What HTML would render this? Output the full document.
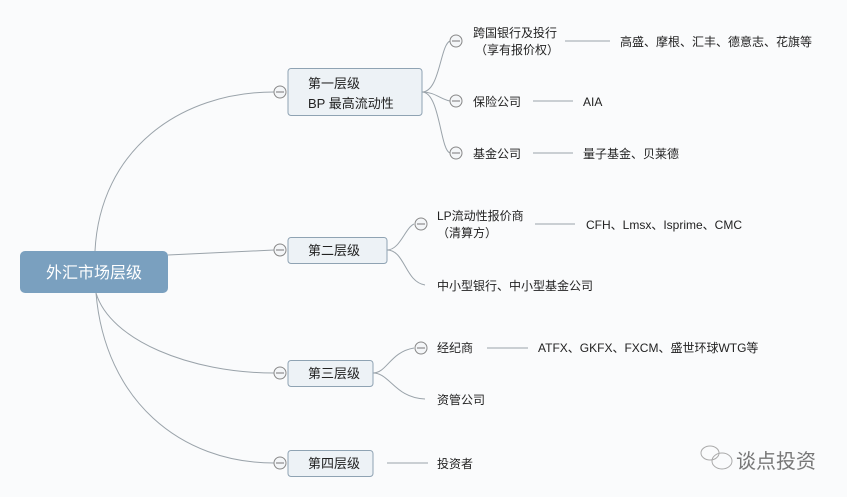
<!DOCTYPE html>
<html><head><meta charset="utf-8"><style>
html,body{margin:0;padding:0;background:#fafbfc;}
svg{display:block;}
text{font-family:"Liberation Sans","Noto Sans CJK SC",sans-serif;fill:#222;}
</style></head><body>
<svg width="847" height="497" viewBox="0 0 847 497" xmlns="http://www.w3.org/2000/svg">
<rect width="847" height="497" fill="#fafbfc"/>
<g fill="none" stroke="#9aa3aa" stroke-width="1">
<!-- root connectors -->
<path d="M95 251 C100 150 180 92 274 92"/>
<path d="M168 255 L274 250"/>
<path d="M96 293 C110 340 190 373 274 373"/>
<path d="M96 293 C105 400 180 463 274 463"/>
<!-- L1 children -->
<path d="M422 92 C440 92 440 45 450 41"/>
<path d="M422 92 C435 92 440 99 450 101"/>
<path d="M422 92 C440 92 440 150 450 153"/>
<path d="M497 41 L610 41" stroke="none"/>
<line x1="565" y1="41" x2="610" y2="41"/>
<line x1="533" y1="101" x2="573" y2="101"/>
<line x1="533" y1="153" x2="573" y2="153"/>
<!-- L2 -->
<path d="M387 250 C400 250 405 228 414 224"/>
<path d="M387 250 C405 250 405 282 425 285"/>
<line x1="535" y1="224" x2="575" y2="224"/>
<!-- L3 -->
<path d="M373 373 C387 373 390 352 414 348"/>
<path d="M373 373 C390 373 395 398 425 399"/>
<line x1="487" y1="348" x2="528" y2="348"/>
<!-- L4 -->
<line x1="387" y1="463" x2="428" y2="463"/>
</g>
<!-- root -->
<rect x="20" y="251" width="148" height="42" rx="5" fill="#7aa0bf"/>
<text x="94" y="278" font-size="16" text-anchor="middle" style="fill:#fff">外汇市场层级</text>
<!-- level boxes -->
<g fill="#edf2f6" stroke="#8fa3b3" stroke-width="1">
<rect x="288" y="68.5" width="134" height="47" rx="3"/>
<rect x="288" y="237.5" width="99" height="26" rx="3"/>
<rect x="288" y="360.5" width="85" height="26" rx="3"/>
<rect x="288" y="450.5" width="85" height="26" rx="3"/>
</g>
<text x="308" y="88" font-size="13">第一层级</text>
<text x="308" y="108" font-size="13">BP 最高流动性</text>
<text x="308" y="255" font-size="13">第二层级</text>
<text x="308" y="378" font-size="13">第三层级</text>
<text x="308" y="468" font-size="13">第四层级</text>
<!-- collapse circles -->
<g fill="#f4f6f8" stroke="#888" stroke-width="1">
<circle cx="280" cy="92" r="6"/><circle cx="280" cy="250" r="6"/>
<circle cx="280" cy="373" r="6"/><circle cx="280" cy="463" r="6"/>
<circle cx="456" cy="41" r="6"/><circle cx="456" cy="101" r="6"/><circle cx="456" cy="153" r="6"/>
<circle cx="421" cy="224" r="6"/><circle cx="421" cy="348" r="6"/>
</g>
<g stroke="#777" stroke-width="1">
<line x1="276" y1="92" x2="284" y2="92"/><line x1="276" y1="250" x2="284" y2="250"/>
<line x1="276" y1="373" x2="284" y2="373"/><line x1="276" y1="463" x2="284" y2="463"/>
<line x1="452" y1="41" x2="460" y2="41"/><line x1="452" y1="101" x2="460" y2="101"/><line x1="452" y1="153" x2="460" y2="153"/>
<line x1="417" y1="224" x2="425" y2="224"/><line x1="417" y1="348" x2="425" y2="348"/>
</g>
<g font-size="12">
<text x="473" y="37">跨国银行及投行</text>
<text x="475" y="54">（享有报价权）</text>
<text x="620" y="46">高盛、摩根、汇丰、德意志、花旗等</text>
<text x="473" y="106">保险公司</text>
<text x="583" y="106">AIA</text>
<text x="473" y="158">基金公司</text>
<text x="583" y="158">量子基金、贝莱德</text>
<text x="437" y="220">LP流动性报价商</text>
<text x="437" y="237">（清算方）</text>
<text x="586" y="229">CFH、Lmsx、Isprime、CMC</text>
<text x="437" y="290">中小型银行、中小型基金公司</text>
<text x="437" y="352">经纪商</text>
<text x="538" y="352">ATFX、GKFX、FXCM、盛世环球WTG等</text>
<text x="437" y="404">资管公司</text>
<text x="437" y="468">投资者</text>
</g>
<!-- watermark -->
<g fill="none" stroke="#aaa" stroke-width="1">
<ellipse cx="710" cy="453" rx="9" ry="7"/>
<ellipse cx="722" cy="461" rx="10" ry="8"/>
</g>
<text x="736" y="468" font-size="20" style="fill:#777">谈点投资</text>
</svg>
</body></html>
